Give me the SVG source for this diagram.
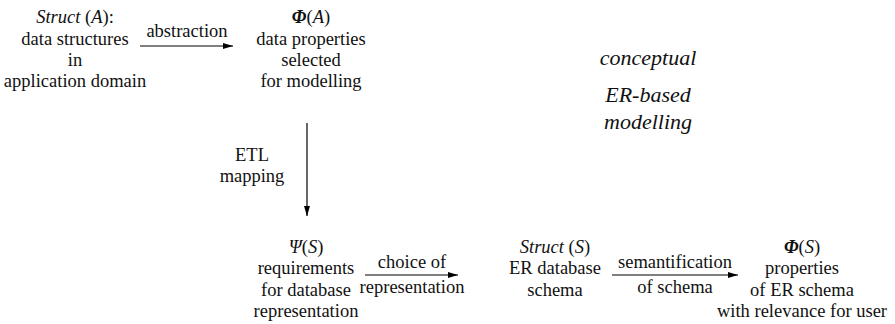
<svg xmlns="http://www.w3.org/2000/svg" width="895" height="324" viewBox="0 0 895 324">
  <defs>
    <marker id="head" viewBox="0 0 10 6" refX="10" refY="3" markerWidth="10" markerHeight="6" markerUnits="userSpaceOnUse" orient="auto">
      <path d="M0,0 L10,3 L0,6 Z" fill="#000"/>
    </marker>
  </defs>
  <style>
    .lbl { font-family: 'Liberation Serif', 'DejaVu Serif', Times, 'Nimbus Roman', 'Nimbus Roman No9 L', FreeSerif, 'Noto Serif', Tinos, serif; font-size: 18.5px; fill: #111; text-anchor: middle; }
    .it { font-style: italic; }
    .bi { font-style: italic; font-weight: bold; }
    .big { font-style: italic; font-size: 22px; }
    .edge { stroke: #000; stroke-width: 1.2; fill: none; marker-end: url(#head); }
  </style>
  <rect width="895" height="324" fill="#fff"/>

  <!-- data structures in the application domain -->
  <g id="structA">
    <text class="lbl" x="75" y="23"><tspan class="it">Struct</tspan> (<tspan class="it">A</tspan>):</text>
    <text class="lbl" x="75" y="45">data structures</text>
    <text class="lbl" x="75" y="66">in</text>
    <text class="lbl" x="75" y="87">application domain</text>
  </g>

  <!-- selected data properties -->
  <g id="phiA">
    <text class="lbl" x="311" y="23"><tspan class="bi">Φ</tspan>(<tspan class="it">A</tspan>)</text>
    <text class="lbl" x="311" y="45">data properties</text>
    <text class="lbl" x="311" y="66">selected</text>
    <text class="lbl" x="311" y="87">for modelling</text>
  </g>

  <!-- requirements for the database representation -->
  <g id="psiS">
    <text class="lbl" x="306" y="253"><tspan class="it">Ψ</tspan>(<tspan class="it">S</tspan>)</text>
    <text class="lbl" x="306" y="274">requirements</text>
    <text class="lbl" x="306" y="296">for database</text>
    <text class="lbl" x="306" y="317">representation</text>
  </g>

  <!-- ER database schema -->
  <g id="structS">
    <text class="lbl" x="555" y="253"><tspan class="it">Struct</tspan> (<tspan class="it">S</tspan>)</text>
    <text class="lbl" x="555" y="274">ER database</text>
    <text class="lbl" x="555" y="296">schema</text>
  </g>

  <!-- properties of the ER schema -->
  <g id="phiS">
    <text class="lbl" x="802" y="253"><tspan class="bi">Φ</tspan>(<tspan class="it">S</tspan>)</text>
    <text class="lbl" x="802" y="274">properties</text>
    <text class="lbl" x="802" y="296">of ER schema</text>
    <text class="lbl" x="802" y="317">with relevance for user</text>
  </g>

  <!-- side note -->
  <g id="note">
    <text class="lbl big" x="648" y="65">conceptual</text>
    <text class="lbl big" x="648" y="102">ER-based</text>
    <text class="lbl big" x="648" y="129">modelling</text>
  </g>

  <g id="connectors">
    <line class="edge" x1="140" y1="46" x2="233" y2="46"/>
    <text class="lbl" x="187" y="37">abstraction</text>

    <line class="edge" x1="307" y1="123" x2="307" y2="216"/>
    <text class="lbl" x="252" y="161">ETL</text>
    <text class="lbl" x="252" y="182">mapping</text>

    <line class="edge" x1="365" y1="275" x2="458" y2="275"/>
    <text class="lbl" x="412" y="268">choice of</text>
    <text class="lbl" x="412" y="293">representation</text>

    <line class="edge" x1="612" y1="275" x2="738" y2="275"/>
    <text class="lbl" x="675" y="268">semantification</text>
    <text class="lbl" x="675" y="293">of schema</text>
  </g>
</svg>
